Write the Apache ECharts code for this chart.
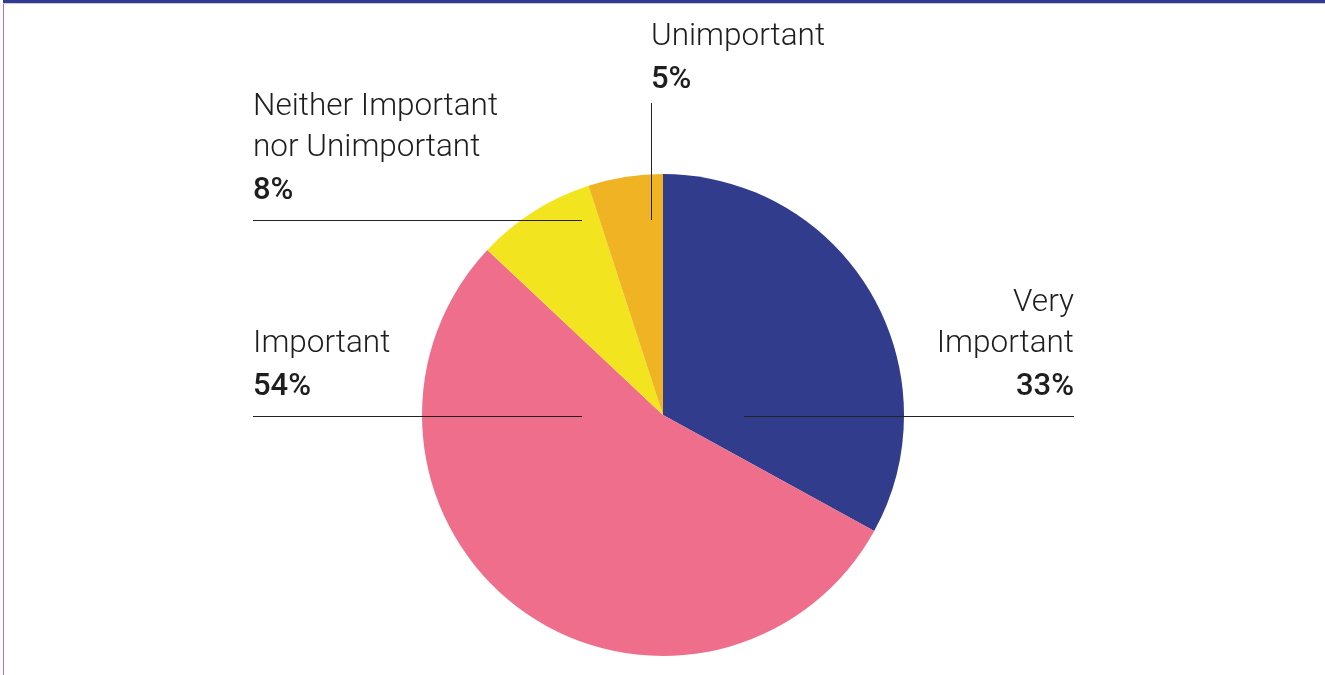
<!DOCTYPE html>
<html><head><meta charset="utf-8">
<script src="https://cdn.jsdelivr.net/npm/echarts@6/dist/echarts.min.js"></script>
<style>
html,body{margin:0;padding:0;background:#fff;}
#c{width:1325px;height:675px;position:absolute;left:0;top:0;}
#topbar{position:absolute;left:3px;top:0;width:1322px;height:3px;background:#343b8f;border-bottom:1px solid #c9cde2;z-index:2;}
#leftbar{position:absolute;left:3px;top:4px;width:1px;height:671px;background:#d06ea2;z-index:2;}
</style></head>
<body>
<div id="c"></div><div id="topbar"></div><div id="leftbar"></div>
<script>
var categories = ['Very\nImportant', 'Important', 'Neither Important\nnor Unimportant', 'Unimportant'];
var values = [33, 54, 8, 5];
var colors = ['#323c8c', '#ee6e8b', '#f2e41f', '#f0b323'];

// label placement (pixel layout, kept separate from data)
var labelPos = [
  {x: 1074, y: 409, align: 'right', line: [[744, 416.5], [1074, 416.5]]},
  {x: 253, y: 409, align: 'left', line: [[253, 416.5], [582, 416.5]]},
  {x: 253, y: 213, align: 'left', line: [[253, 220.5], [582, 220.5]]},
  {x: 651, y: 102, align: 'left', line: [[651.5, 103], [651.5, 220]]}
];

var pieData = categories.map(function (c, i) {
  return {name: c, value: values[i], itemStyle: {color: colors[i]}};
});
var labelData = categories.map(function (c, i) {
  return {name: c, value: values[i], itemStyle: {color: 'rgba(0,0,0,0)'}};
});

var chart = echarts.init(document.getElementById('c'), null, {renderer: 'canvas'});
chart.setOption({
  animation: false,
  series: [{
    type: 'pie',
    center: [663, 415],
    radius: 241,
    startAngle: 90,
    silent: true,
    z: 1,
    data: pieData,
    label: {show: false},
    labelLine: {show: false}
  }, {
    type: 'pie',
    center: [663, 415],
    radius: 241,
    startAngle: 90,
    silent: true,
    z: 5,
    data: labelData,
    label: {
      show: true,
      position: 'outside',
      formatter: function (p) { return '{n|' + p.name + '}\n{v|' + p.value + '%}'; },
      rich: {
        n: {fontFamily: 'Roboto', fontWeight: 300, fontSize: 31.5, lineHeight: 41, color: '#1e1e1e'},
        v: {fontFamily: 'Roboto', fontWeight: 500, fontSize: 31, lineHeight: 44, color: '#1e1e1e'}
      }
    },
    labelLine: {show: true, lineStyle: {color: '#222', width: 1}},
    labelLayout: function (p) {
      var l = labelPos[p.dataIndex];
      return {x: l.x, y: l.y, align: l.align, verticalAlign: 'bottom', labelLinePoints: l.line};
    }
  }]
});
</script>
</body></html>
